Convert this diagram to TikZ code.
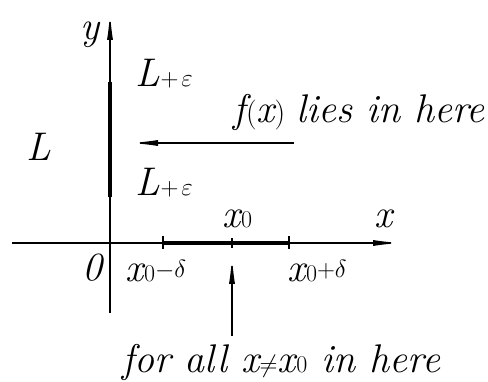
\documentclass[tikz,border=0pt]{standalone}
\usepackage{fontspec}
\usetikzlibrary{arrows.meta}
\newcommand\fsz[1]{\fontsize{#1}{#1}\selectfont}
\begin{document}
\begin{tikzpicture}[x=1pt,y=-1pt,
  thinline/.style={line width=1.4pt},
  thickline/.style={line width=3.8pt},
  arr/.style={thinline,-{Latex[length=28pt,width=6pt]}},
  tick/.style={line width=1.4pt},
  lbl/.style={inner sep=0pt,outer sep=0pt,anchor=base west,font=\fsz{40}\itshape}]
\useasboundingbox (0,0) rectangle (488,382);
% coordinates
\coordinate (xs) at (12,243);
\coordinate (xe) at (401,243);
\coordinate (ys) at (110,313);
\coordinate (ye) at (110,12);
\coordinate (xa) at (163,243);
\coordinate (xm) at (232,243);
\coordinate (xb) at (289,243);
\coordinate (ya) at (110,197);
\coordinate (yb) at (110,82);
\coordinate (fs) at (294,143);
\coordinate (ft) at (130,143);
\coordinate (us) at (232,336);
\coordinate (ut) at (232,256);
% axes
\draw[arr] (xs) -- (xe);
\draw[arr] (ys) -- (ye);
\draw[thickline] (xa) -- (xb);
\draw[thickline] (ya) -- (yb);
\draw[tick] ([yshift=-6pt]xa) -- ([yshift=7pt]xa);
\draw[tick] ([yshift=-5pt]xm) -- ([yshift=5pt]xm);
\draw[tick] ([yshift=-6pt]xb) -- ([yshift=7pt]xb);
\draw[arr] (fs) -- (ft);
\draw[arr] (us) -- (ut);
% labels
\node[lbl] (ylab) at (80,40) {y};
\node[lbl] (xlab) at (374,228) {x};
\node[lbl] (Ltop) at (135,87) {L\kern1pt{\fsz{28}$+\kern3pt\varepsilon$}};
\node[lbl] (Lbot) at (135,196) {L\kern1pt{\fsz{28}$+\kern3pt\varepsilon$}};
\node[lbl] (Lleft) at (27,161) {L};
\node[lbl] (fx) at (233,123) {f\kern1pt{\upshape\fsz{30}(}x{\upshape\fsz{30})}\kern-3pt\ lies in here};
\node[lbl] (x0lab) at (222,228) {x\kern1pt{\upshape\fsz{24}0}};
\node[lbl] (orig) at (82,281) {0};
\node[lbl] (xam) at (125,282) {x\kern1pt{\upshape\fsz{24}0}{\fsz{26}\raisebox{4pt}{$-\delta$}}};
\node[lbl] (xap) at (287,282) {x\kern1pt{\upshape\fsz{24}0}{\fsz{26}\raisebox{4pt}{$+\delta$}}};
\node[lbl] (forall) at (122,373) {for all x{\fsz{30}$\neq$}x\kern1pt{\upshape\fsz{24}0} in here};
\end{tikzpicture}
\end{document}
